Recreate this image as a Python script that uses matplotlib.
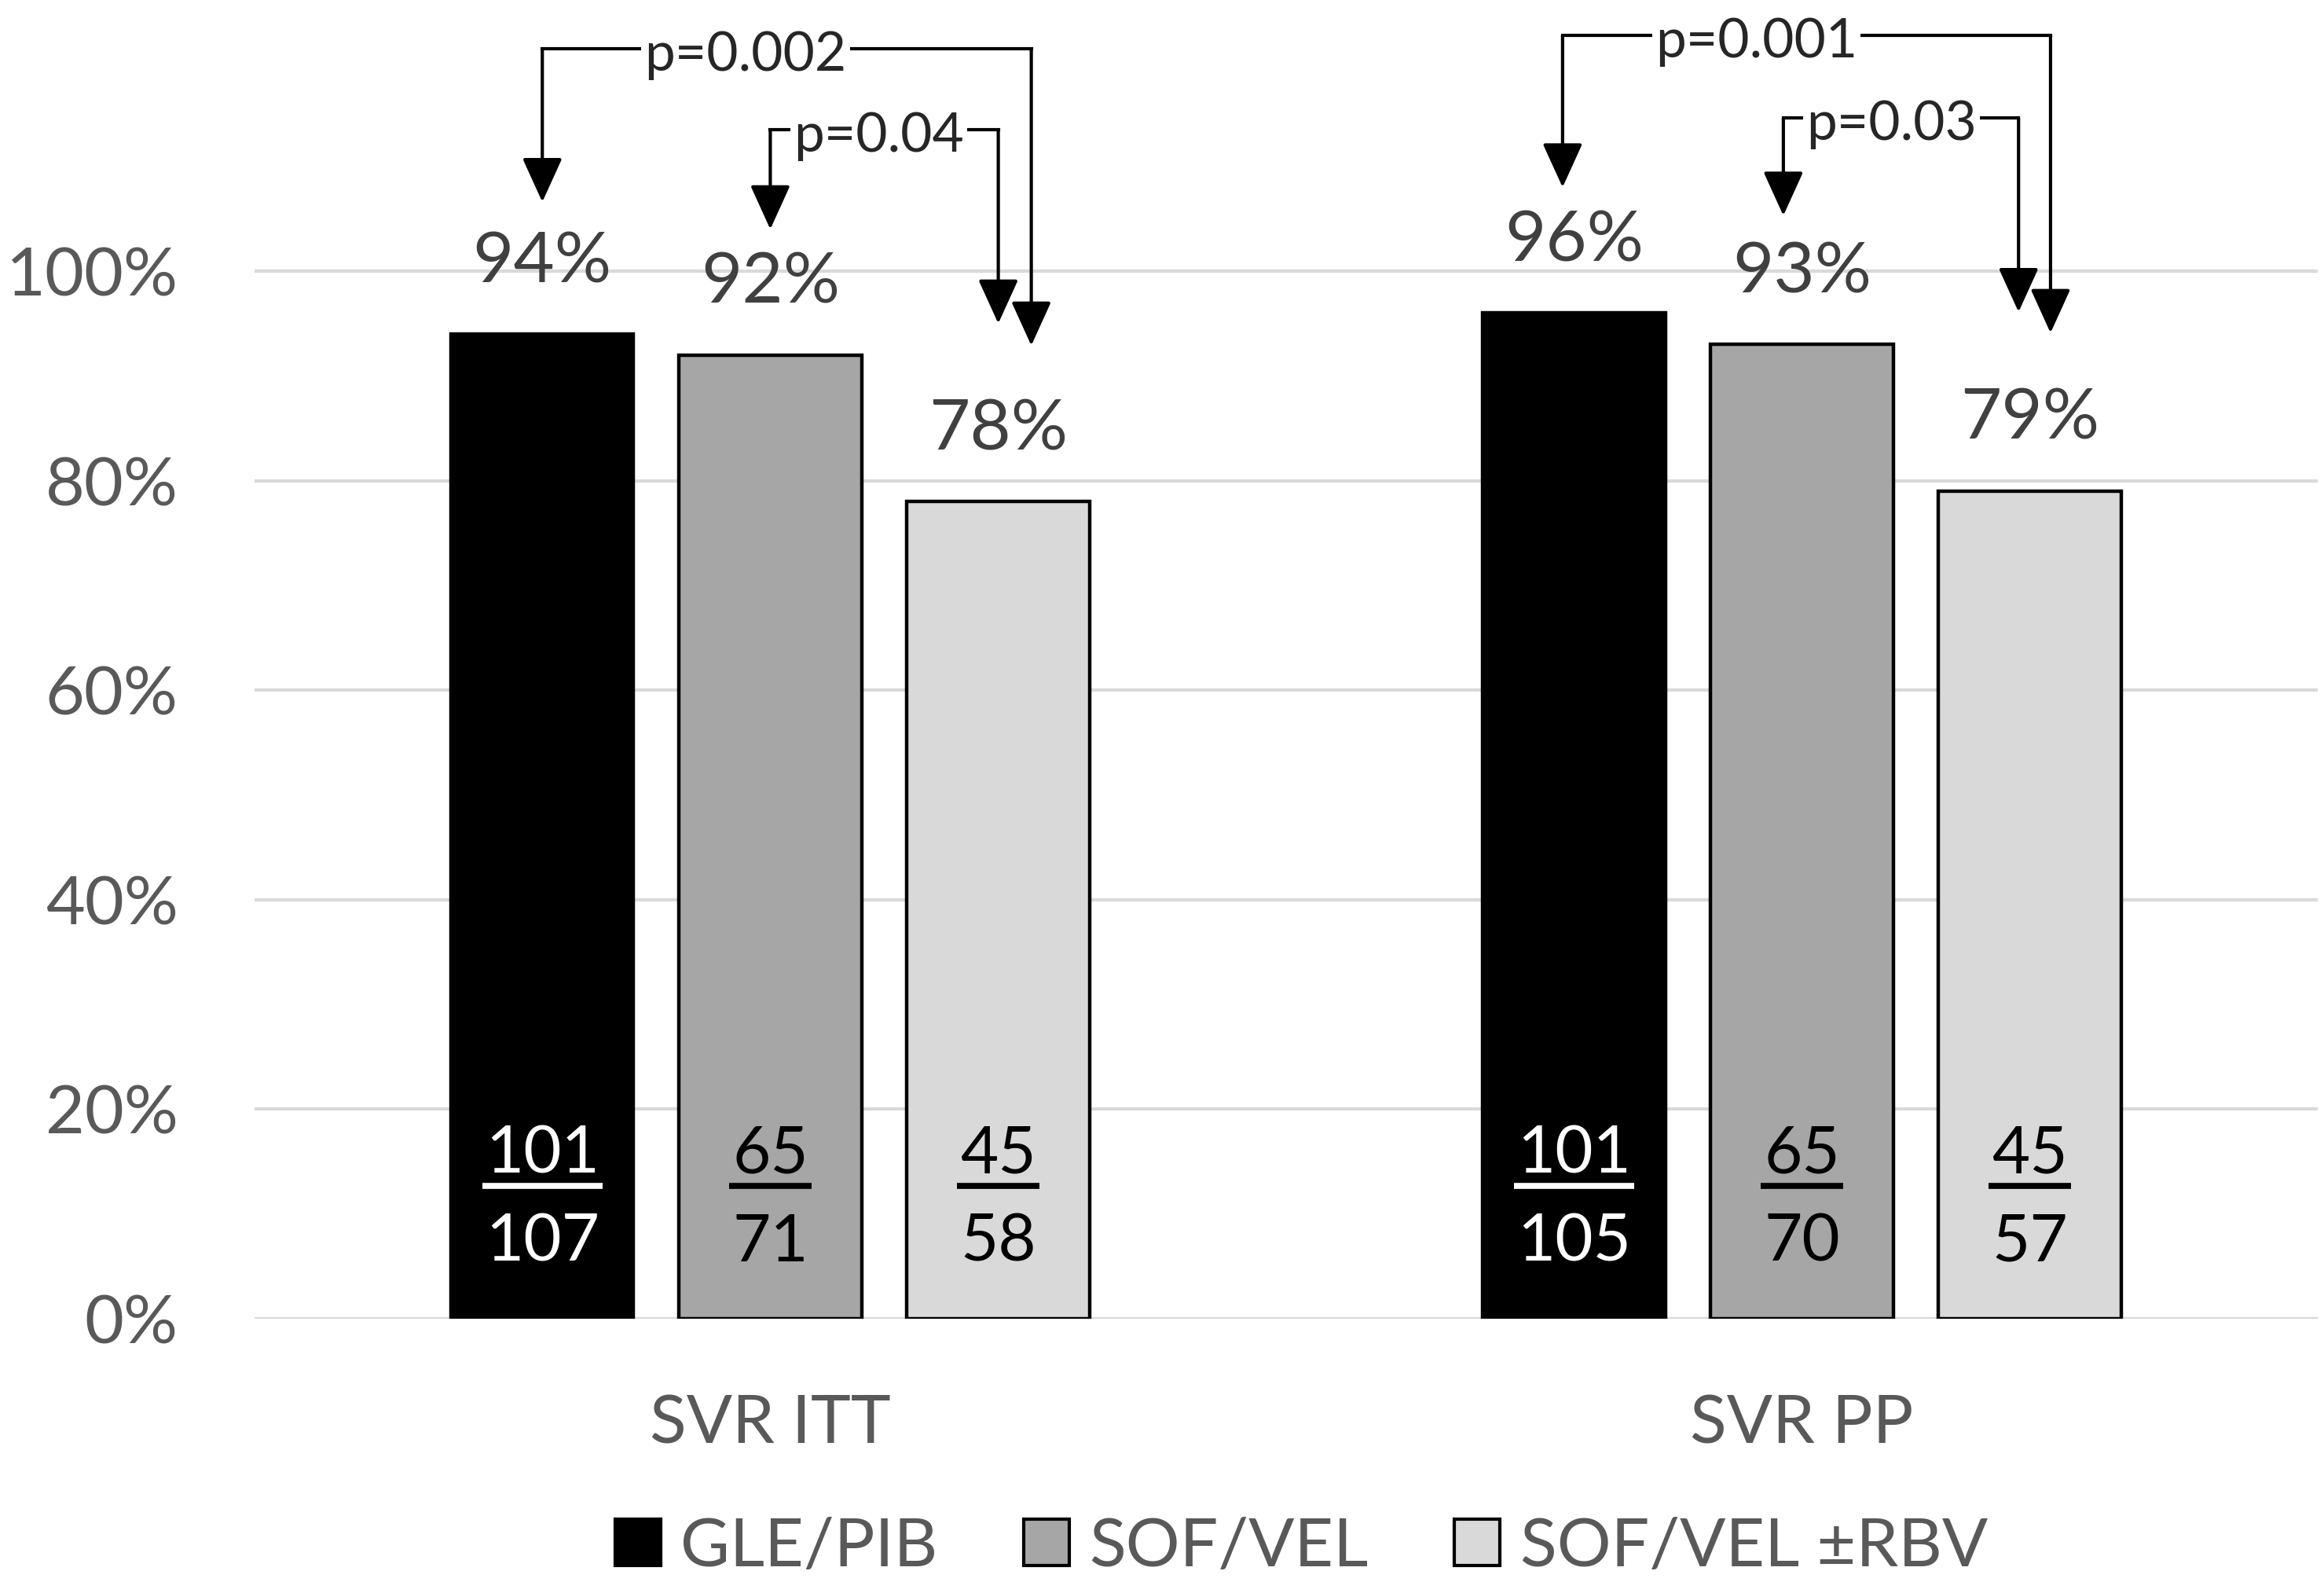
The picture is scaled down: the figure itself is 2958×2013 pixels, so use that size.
import numpy as np
import matplotlib
matplotlib.use('Agg')
import matplotlib.pyplot as plt
from matplotlib.patches import Patch

plt.rcParams['font.family'] = ['Lato', 'DejaVu Sans']

categories = ['SVR ITT', 'SVR PP']
regimens = ['GLE/PIB', 'SOF/VEL', 'SOF/VEL ±RBV']
gle_pib = [94, 96]
sof_vel = [92, 93]
sof_vel_rbv = [78, 79]
gle_pib_n = [101, 101]
gle_pib_d = [107, 105]
sof_vel_n = [65, 65]
sof_vel_d = [71, 70]
sof_vel_rbv_n = [45, 45]
sof_vel_rbv_d = [58, 57]
p_gle_vs_rbv = ['p=0.002', 'p=0.001']
p_sof_vs_rbv = ['p=0.04', 'p=0.03']
y_ticks = [0, 20, 40, 60, 80, 100]

BAR_COLORS = ['#000000', '#A6A6A6', '#D9D9D9']
FRAC_COLORS = ['white', 'black', 'black']
TICK_GRAY = '#595959'
LABEL_GRAY = '#404040'


def draw_bracket(ax, xl, xr, y, tip_l, tip_r, text, x_text):
    ax.plot([xl, xr], [y, y], color='black', lw=3, solid_capstyle='projecting',
            clip_on=False, zorder=4)
    for xa, tip in [(xl, tip_l), (xr, tip_r)]:
        ax.annotate('', xy=(xa, tip), xytext=(xa, y),
                    arrowprops=dict(arrowstyle='-|>,head_length=0.88,head_width=0.4',
                                    mutation_scale=40, lw=3, color='black',
                                    shrinkA=0, shrinkB=0),
                    annotation_clip=False, zorder=4)
    ax.text(x_text, y - 0.021, text, ha='center', va='baseline', fontsize=50,
            color='#262626', zorder=5, clip_on=False,
            bbox=dict(fc='white', ec='none', pad=3))


fig = plt.figure(figsize=(29.58, 20.13), dpi=100)
ax = fig.add_axes([0.1095, 0.1664, 0.8878, 0.8336])
ax.set_xlim(-0.5, 1.5)
ax.set_ylim(0, 1.2588)

x = np.arange(len(categories))
width = 0.177
offsets = [-0.221, 0, 0.221]
series = [gle_pib, sof_vel, sof_vel_rbv]
nums = [gle_pib_n, sof_vel_n, sof_vel_rbv_n]
dens = [gle_pib_d, sof_vel_d, sof_vel_rbv_d]

for yt in y_ticks:
    ax.axhline(yt / 100, color='#D9D9D9', lw=3, zorder=0)

num_texts = []
for j, vals in enumerate(series):
    xs = x + offsets[j]
    ax.bar(xs, np.array(vals) / 100, width, color=BAR_COLORS[j], edgecolor='black',
           linewidth=3.2, zorder=2)
    for i, v in enumerate(vals):
        ax.annotate(f'{v}%', (xs[i], v / 100), xytext=(0, 47.5), textcoords='offset points',
                    ha='center', va='baseline', fontsize=65, color=LABEL_GRAY)
        t = ax.text(xs[i], 0.139, str(nums[j][i]), ha='center', va='baseline',
                    fontsize=60, color=FRAC_COLORS[j], zorder=3)
        num_texts.append((t, FRAC_COLORS[j]))
        ax.text(xs[i], 0.055, str(dens[j][i]), ha='center', va='baseline',
                fontsize=60, color=FRAC_COLORS[j], zorder=3)

# fraction bars under the numerators
fig.canvas.draw()
renderer = fig.canvas.get_renderer()
inv = ax.transData.inverted()
for t, c in num_texts:
    bb = t.get_window_extent(renderer)
    (x0, _), (x1, _) = inv.transform([(bb.x0 - 4, 0), (bb.x1 + 4, 0)])
    ax.plot([x0, x1], [0.127, 0.127], color=c, lw=5.5, solid_capstyle='butt', zorder=3)

# significance brackets
draw_bracket(ax, x[0] + offsets[0], x[0] + offsets[2] + 0.032, 1.212, 1.066, 0.929,
             p_gle_vs_rbv[0], x[0] - 0.024)
draw_bracket(ax, x[0] + offsets[1], x[0] + offsets[2], 1.135, 1.040, 0.950,
             p_sof_vs_rbv[0], x[0] + 0.105)
draw_bracket(ax, x[1] + offsets[0] - 0.011, x[1] + offsets[2] + 0.02, 1.225, 1.080, 0.941,
             p_gle_vs_rbv[1], x[1] - 0.044)
draw_bracket(ax, x[1] + offsets[1] - 0.018, x[1] + offsets[2] - 0.011, 1.146, 1.053, 0.961,
             p_sof_vs_rbv[1], x[1] + 0.087)

ax.set_yticks([v / 100 for v in y_ticks])
ax.set_yticklabels([f'{v}%' for v in y_ticks])
ax.set_xticks(x)
ax.set_xticklabels(categories)
ax.tick_params(axis='y', length=0, pad=70, labelsize=62, labelcolor=TICK_GRAY)
ax.tick_params(axis='x', length=0, pad=69, labelsize=62, labelcolor=TICK_GRAY)
for s in ax.spines.values():
    s.set_visible(False)

handles = [Patch(facecolor=BAR_COLORS[j], edgecolor='black', linewidth=3, label=regimens[j])
           for j in range(3)]
leg = fig.legend(handles=handles, loc='center', bbox_to_anchor=(0.56, 0.022), ncol=3,
                 frameon=False, fontsize=62, handlelength=0.67, handleheight=0.67,
                 handletextpad=0.3, columnspacing=1.27)
for txt in leg.get_texts():
    txt.set_color(TICK_GRAY)

fig.savefig('out.png', dpi=100)
